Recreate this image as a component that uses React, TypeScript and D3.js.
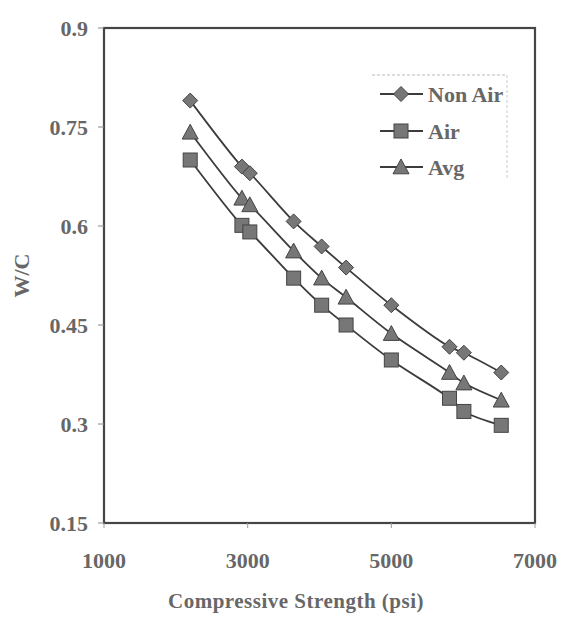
import React from "react";
import * as d3 from "d3";

const strength = [2200, 2920, 3030, 3640, 4030, 4370, 5000, 5810, 6010, 6530];
const nonAir = [0.79, 0.69, 0.68, 0.607, 0.569, 0.537, 0.48, 0.417, 0.408, 0.378];
const air = [0.70, 0.601, 0.591, 0.521, 0.48, 0.45, 0.397, 0.339, 0.319, 0.298];
const avg = [0.742, 0.642, 0.632, 0.562, 0.521, 0.492, 0.437, 0.378, 0.362, 0.336];
const seriesNames = ["Non Air", "Air", "Avg"];
const markerTypes = ["diamond", "square", "triangle"];
const xTicks = [1000, 3000, 5000, 7000];
const yTicks = [0.15, 0.3, 0.45, 0.6, 0.75, 0.9];
const yTickLabels = ["0.15", "0.3", "0.45", "0.6", "0.75", "0.9"];

const W = 566, H = 629;
const left = 104, right = 535, top = 28, bottom = 523;
const font = "'Liberation Serif', 'Times New Roman', serif";
const textColor = "#676767";
const lineColor = "#3c3c3c";
const markerFill = "#777";
const markerStroke = "#444";

function Marker({ type, x, y }: { type: string; x: number; y: number }) {
  if (type === "diamond") {
    const s = 7.5;
    return <path d={`M${x},${y - s}L${x + s},${y}L${x},${y + s}L${x - s},${y}Z`} fill={markerFill} stroke={markerStroke} strokeWidth={1} />;
  }
  if (type === "square") {
    const s = 7;
    return <rect x={x - s} y={y - s} width={2 * s} height={2 * s} fill={markerFill} stroke={markerStroke} strokeWidth={1} />;
  }
  const s = 8;
  return <path d={`M${x},${y - s}L${x + s},${y + s * 0.85}L${x - s},${y + s * 0.85}Z`} fill={markerFill} stroke={markerStroke} strokeWidth={1} />;
}

export default function App() {
  const x = d3.scaleLinear().domain([1000, 7000]).range([left, right]);
  const y = d3.scaleLinear().domain([0.15, 0.9]).range([bottom, top]);
  const series = [nonAir, air, avg];
  const line = d3
    .line<[number, number]>()
    .x((d) => x(d[0]))
    .y((d) => y(d[1]))
    .curve(d3.curveCatmullRom.alpha(0.5));

  const legendY = [94, 131, 167];

  return (
    <svg width={W} height={H} style={{ position: "absolute", left: 0, top: 0, background: "#fff" }} fontFamily={font}>
      <rect x={0} y={0} width={W} height={H} fill="#fff" />
      {/* frame */}
      <rect x={left} y={top} width={right - left} height={bottom - top} fill="none" stroke="#454545" strokeWidth={2.2} />
      {/* y ticks */}
      {yTicks.map((t, i) => (
        <g key={"y" + i}>
          <line x1={left - 6} x2={left} y1={y(t)} y2={y(t)} stroke="#888" strokeWidth={1} />
          <text x={88} y={y(t)} dy="0.35em" textAnchor="end" fontSize={22} fontWeight="bold" fill={textColor}>
            {yTickLabels[i]}
          </text>
        </g>
      ))}
      {/* x ticks */}
      {xTicks.map((t, i) => (
        <g key={"x" + i}>
          <line x1={x(t)} x2={x(t)} y1={bottom} y2={bottom + 5} stroke="#999" strokeWidth={1} />
          <text x={x(t)} y={568} textAnchor="middle" fontSize={22} fontWeight="bold" fill={textColor}>
            {t}
          </text>
        </g>
      ))}
      {/* axis titles */}
      <text x={296} y={608} textAnchor="middle" fontSize={21} fontWeight="bold" fill={textColor} letterSpacing={0.5}>
        Compressive Strength (psi)
      </text>
      <text transform={`translate(29,${(top + bottom) / 2}) rotate(-90)`} textAnchor="middle" fontSize={22} fontWeight="bold" fill={textColor}>
        W/C
      </text>
      {/* lines */}
      {series.map((s, si) => (
        <path key={"l" + si} d={line(strength.map((v, i) => [v, s[i]]) as [number, number][]) || ""} fill="none" stroke={lineColor} strokeWidth={1.8} />
      ))}
      {/* markers */}
      {series.map((s, si) => (
        <g key={"m" + si}>
          {strength.map((v, i) => (
            <Marker key={i} type={markerTypes[si]} x={x(v)} y={y(s[i])} />
          ))}
        </g>
      ))}
      {/* legend */}
      <line x1={372} x2={507} y1={75} y2={75} stroke="#bbb" strokeWidth={1} strokeDasharray="3,2" />
      <line x1={507} x2={507} y1={75} y2={180} stroke="#ccc" strokeWidth={1} strokeDasharray="3,2" />
      {seriesNames.map((n, i) => (
        <g key={"lg" + i}>
          <line x1={380} x2={423} y1={legendY[i]} y2={legendY[i]} stroke={lineColor} strokeWidth={1.8} />
          <Marker type={markerTypes[i]} x={401} y={legendY[i]} />
          <text x={428} y={legendY[i]} dy="0.35em" fontSize={22} fontWeight="bold" fill={textColor}>
            {n}
          </text>
        </g>
      ))}
    </svg>
  );
}
